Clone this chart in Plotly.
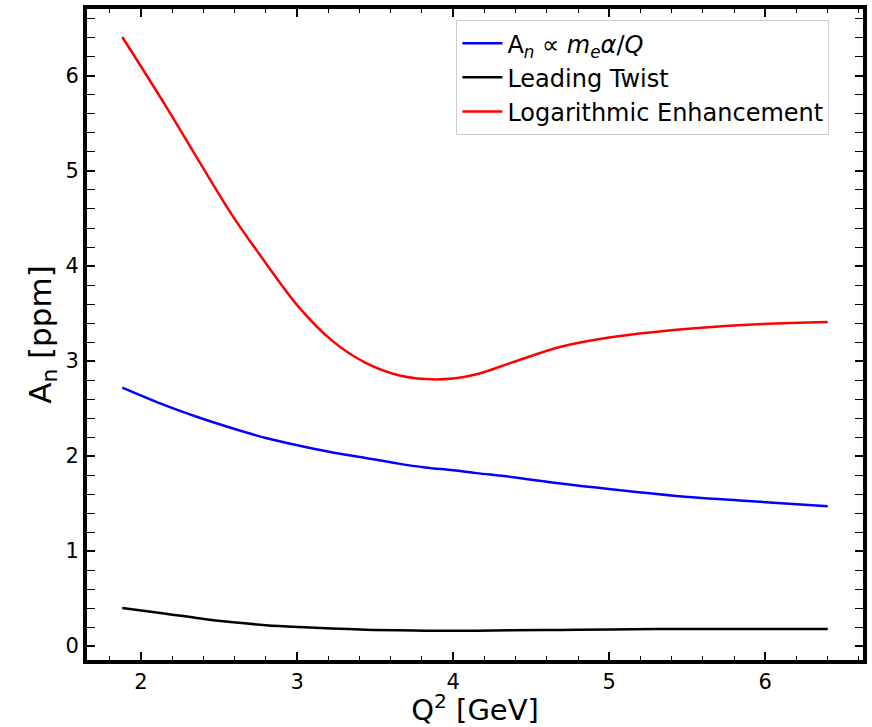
import plotly.graph_objects as go

q2 = [1.88, 2.16, 2.38, 2.59, 2.80, 3.01, 3.22, 3.44, 3.65, 3.82, 4.00, 4.15, 4.37, 4.69, 5.01, 5.43, 5.86, 6.40]
an_me_alpha = [2.72, 2.53, 2.40, 2.29, 2.19, 2.11, 2.04, 1.98, 1.92, 1.88, 1.85, 1.82, 1.78, 1.71, 1.65, 1.58, 1.53, 1.47]
leading_twist = [0.40, 0.34, 0.29, 0.25, 0.22, 0.20, 0.185, 0.172, 0.165, 0.162, 0.16, 0.162, 0.165, 0.17, 0.175, 0.18, 0.18, 0.18]
log_enh = [6.41, 5.68, 5.08, 4.52, 4.03, 3.57, 3.22, 2.98, 2.85, 2.81, 2.815, 2.86, 2.98, 3.15, 3.25, 3.33, 3.38, 3.41]

names = ["A<sub><i>n</i></sub> ∝ <i>m<sub>e</sub>α</i>/<i>Q</i>", "Leading Twist", "Logarithmic Enhancement"]
colors = ["#0000ff", "#000000", "#ff0000"]

fig = go.Figure()
for y, n, c in zip([an_me_alpha, leading_twist, log_enh], names, colors):
    fig.add_trace(go.Scatter(x=q2, y=y, mode="lines", name=n,
                             line=dict(color=c, width=2.5, shape="spline", smoothing=1.0)))

font = "DejaVu Sans, sans-serif"
axis_common = dict(showline=True, linecolor="black", linewidth=4, mirror="allticks",
                   ticks="inside", tickcolor="black", tickwidth=1.5, ticklen=8,
                   showgrid=False, zeroline=False,
                   tickfont=dict(family=font, size=21, color="black"))
fig.update_xaxes(range=[1.654, 6.626], dtick=1, tick0=0,
                 minor=dict(dtick=0.2, tick0=0, ticks="inside", ticklen=4, tickwidth=1.2, tickcolor="black"),
                 title=dict(text="Q<sup>2</sup> [GeV]", font=dict(family=font, size=29, color="black"), standoff=2),
                 **axis_common)
fig.update_yaxes(range=[-0.147, 6.705], dtick=1, tick0=0,
                 minor=dict(dtick=0.2, tick0=0, ticks="inside", ticklen=8, tickwidth=1.2, tickcolor="black"),
                 title=dict(text="A<sub>n</sub> [ppm]", font=dict(family=font, size=31, color="black"), standoff=6),
                 **axis_common)
fig.update_layout(width=872, height=727, plot_bgcolor="white", paper_bgcolor="white",
                  margin=dict(l=87, r=5, t=9, b=67),
                  font=dict(family=font, color="black"),
                  legend=dict(x=0.476, y=0.983, xanchor="left", yanchor="top",
                              bgcolor="white", bordercolor="#cccccc", borderwidth=1,
                              font=dict(family=font, size=24, color="black"),
                              tracegroupgap=10, itemwidth=40))
fig.write_html("out.html")
